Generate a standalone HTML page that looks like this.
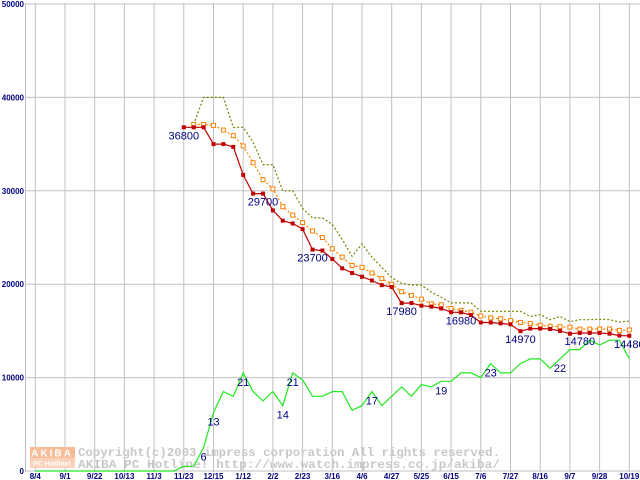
<!DOCTYPE html>
<html><head><meta charset="utf-8"><style>
html,body{margin:0;padding:0;background:#fff;}
svg{display:block;font-family:"Liberation Sans",sans-serif;}
</style></head><body>
<svg id="chart" width="640" height="480" viewBox="0 0 640 480" xmlns="http://www.w3.org/2000/svg">
<g id="grid"></g>
<g id="ylabels"></g>
<g id="xlabels"></g>
<g>
 <rect x="30" y="447" width="45" height="11" fill="#f8bc98"/>
 <rect x="30" y="458" width="45" height="10" fill="#fbd2b8"/>
 <text x="52" y="456.5" font-size="10" font-weight="bold" fill="#fff" text-anchor="middle" letter-spacing="2">AKIBA</text>
 <text x="52" y="466" font-size="7" font-weight="bold" fill="#fff" text-anchor="middle">PC Hotline!</text>
 <text x="78" y="456" font-family="Liberation Mono,monospace" font-size="11.5" font-weight="bold" fill="#c8c8c8" textLength="422" lengthAdjust="spacingAndGlyphs">Copyright(c)2003 impress corporation All rights reserved.</text>
 <text x="78" y="468" font-family="Liberation Mono,monospace" font-size="11.5" font-weight="bold" fill="#c8c8c8" textLength="422" lengthAdjust="spacingAndGlyphs">AKIBA PC Hotline!  http://www.watch.impress.co.jp/akiba/</text>
</g>
<g id="series"></g>
<g id="labels"></g>
</svg>
<script>
const xTickLabels = ["8/4","9/1","9/22","10/13","11/3","11/23","12/15","1/12","2/2","2/23","3/16","4/6","4/27","5/25","6/15","7/6","7/27","8/16","9/7","9/28","10/19"];
const yTicks = [0,10000,20000,30000,40000,50000];
const startIndex = 15;
const minPrice = [36800,36800,36800,35000,35000,34700,31700,29700,29700,27900,26800,26500,25900,23700,23600,22700,21700,21200,20800,20400,19900,19700,17980,17980,17700,17600,17400,17000,16980,16700,15900,15900,15800,15700,14970,15250,15250,15200,15000,14700,14780,14780,14780,14700,14500,14480];
const avgPrice = [null,37100,37100,37000,36500,35900,34800,33000,31200,30200,28300,27400,26600,25700,25000,23800,22900,22000,21800,21200,20600,20000,19200,18800,18400,17900,17800,17400,17200,17000,16600,16400,16300,16100,15900,15800,15600,15500,15450,15400,15200,15200,15200,15200,15050,15100];
const maxPrice = [null,37100,40000,40000,40000,36800,36800,35200,32800,32800,30000,30000,28100,27100,27100,26400,24800,23000,24300,22900,21800,20700,20100,19900,19900,19150,18600,18000,18000,18000,17100,17100,17100,17100,17100,16550,16750,16200,16550,16000,16200,16200,16250,16200,15950,16050];
const shopCount = [0,0,0,0,0,0,0,0,0,0,0,0,0,0,0,1,1,5,12.5,17,16,21,17,15,17,14,21,19.5,16,16,17,17,13,14,17,14,16,18,16,18.5,18,19.2,19.2,21,21,20,23,21,21,23,24,24,22,24,26,26,28,27,28,28,24];
const minLabels = [[0,"36800"],[8,"29700"],[13,"23700"],[22,"17980"],[28,"16980"],[34,"14970"],[40,"14780"],[45,"14480"]];
const countLabels = [[17,"6"],[18,"13"],[21,"21"],[25,"14"],[26,"21"],[34,"17"],[41,"19"],[46,"23"],[53,"22"]];

const NS="http://www.w3.org/2000/svg";
function X(j){return 35.3+j*9.9;}
function Y(v){return 471-v*(467/50000);}
function YC(c){return Y(c*500);}
function mk(tag,attrs,parent){const e=document.createElementNS(NS,tag);for(const k in attrs)e.setAttribute(k,attrs[k]);parent.appendChild(e);return e;}
const grid=document.getElementById('grid'),yl=document.getElementById('ylabels'),xl=document.getElementById('xlabels'),ser=document.getElementById('series'),lab=document.getElementById('labels');

yTicks.forEach(v=>{
  const l=mk('line',{x1:25,x2:640,y1:Y(v),y2:Y(v),stroke:'#c0c0c0','stroke-width':1},grid);
  
  
  const t=mk('text',{x:24,y:Y(v)+3,'font-size':8,'font-weight':'bold',fill:'#000080','text-anchor':'end'},yl);
  t.textContent=v;
  
  
});
const ax=mk('line',{x1:25.5,x2:25.5,y1:3,y2:472,stroke:'#c0c0c0'},grid);


xTickLabels.forEach((s,i)=>{
  const x=X(i*3);
  const l=mk('line',{x1:x,x2:x,y1:3,y2:472,stroke:'#c0c0c0'},grid);
  
  
  const t=mk('text',{x:x,y:479,'font-size':8,'font-weight':'bold',fill:'#000080','text-anchor':'middle'},xl);
  t.textContent=s;
  
  
});
function pts(arr,off,f){const p=[];arr.forEach((v,i)=>{if(v!==null)p.push(X(i+off).toFixed(1)+','+f(v).toFixed(1));});return p.join(' ');}

const g=mk('polyline',{points:pts(shopCount,0,YC),fill:'none',stroke:'#22e822','stroke-width':1.2},ser);


const mx=mk('polyline',{points:pts(maxPrice,startIndex,Y),fill:'none',stroke:'#808000','stroke-width':1.2,'stroke-dasharray':'2,2'},ser);


const av=mk('polyline',{points:pts(avgPrice,startIndex,Y),fill:'none',stroke:'#ff8000','stroke-width':1.2,'stroke-dasharray':'2,2'},ser);


avgPrice.forEach((v,i)=>{if(v===null)return;
  const r=mk('rect',{x:X(i+startIndex)-2,y:Y(v)-2,width:4,height:4,fill:'#fff',stroke:'#ff8000','stroke-width':1},ser);
  
  
});
const mn=mk('polyline',{points:pts(minPrice,startIndex,Y),fill:'none',stroke:'#c00000','stroke-width':1.2},ser);


minPrice.forEach((v,i)=>{
  const r=mk('rect',{x:X(i+startIndex)-2,y:Y(v)-2,width:4,height:4,fill:'#c00000'},ser);
  
  
});
minLabels.forEach(([k,s])=>{
  const t=mk('text',{x:X(k+startIndex),y:Y(minPrice[k])+12,'font-size':11,fill:'#000080','text-anchor':'middle'},lab);
  t.textContent=s;
  
  
});
countLabels.forEach(([j,s])=>{
  const t=mk('text',{x:X(j),y:YC(shopCount[j])+13,'font-size':11,fill:'#000080','text-anchor':'middle'},lab);
  t.textContent=s;
  
  
});
</script>
</body></html>
